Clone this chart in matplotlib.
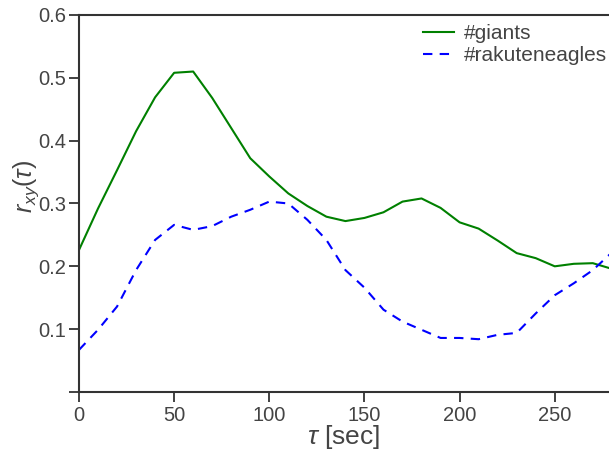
import matplotlib
matplotlib.use("Agg")
import matplotlib.pyplot as plt

plt.rcParams['font.family'] = ['Liberation Sans', 'DejaVu Sans']
plt.rcParams['mathtext.fontset'] = 'custom'
plt.rcParams['mathtext.rm'] = 'Liberation Sans'
plt.rcParams['mathtext.it'] = 'Liberation Sans:italic'

# lag in seconds
tau = [0, 10, 20, 30, 40, 50, 60, 70, 80, 90, 100, 110, 120, 130, 140,
       150, 160, 170, 180, 190, 200, 210, 220, 230, 240, 250, 260, 270, 280]

giants = [0.226, 0.292, 0.353, 0.415, 0.469, 0.508, 0.510, 0.468, 0.420, 0.372,
          0.343, 0.316, 0.296, 0.279, 0.272, 0.277, 0.286, 0.303, 0.308, 0.293,
          0.270, 0.260, 0.241, 0.221, 0.213, 0.200, 0.204, 0.205, 0.196]

eagles = [0.067, 0.099, 0.136, 0.194, 0.242, 0.266, 0.258, 0.264, 0.279, 0.290,
          0.303, 0.300, 0.274, 0.242, 0.194, 0.166, 0.131, 0.112, 0.099, 0.086,
          0.086, 0.084, 0.091, 0.094, 0.125, 0.154, 0.173, 0.194, 0.222]

xticks = [0, 50, 100, 150, 200, 250]
yticks = [0, 0.1, 0.2, 0.3, 0.4, 0.5, 0.6]
yticklabels = ['', '0.1', '0.2', '0.3', '0.4', '0.5', '0.6']

grey = '#444444'

fig = plt.figure(figsize=(6.09, 4.61), dpi=100)
ax = fig.add_axes([0.1297, 0.1497, 0.8703, 0.8178])

ax.plot(tau, giants, color='green', lw=1.5, label='#giants')
ax.plot(tau, eagles, color='blue', lw=1.5, ls=(0, (4.5, 3.5)), label='#rakuteneagles')

ax.set_xlim(0, 278.5)
ax.set_ylim(0, 0.6)
ax.set_xticks(xticks)
ax.set_yticks(yticks)
ax.set_yticklabels(yticklabels)

for s in ['left', 'bottom', 'top']:
    ax.spines[s].set_color('#333333')
    ax.spines[s].set_linewidth(1.5)
ax.spines['right'].set_visible(False)

ax.tick_params(direction='out', length=7, width=1.3, color='#333333',
               labelsize=14.5, labelcolor=grey)
ax.tick_params(axis='y', pad=2)
ax.tick_params(axis='x', pad=3)

ax.set_xlabel(r'$\tau$ [sec]', fontsize=19, color=grey, labelpad=-1)
ax.set_ylabel(r'$r_{xy}(\tau)$', fontsize=18, color=grey)
ax.yaxis.set_label_coords(-0.072, 0.545)

leg = ax.legend(loc='upper right', bbox_to_anchor=(1.014, 1.0), frameon=False,
                fontsize=15, handlelength=1.45, handletextpad=0.5,
                labelspacing=0.15, borderaxespad=0.0, borderpad=0.45)
for t in leg.get_texts():
    t.set_color(grey)

fig.savefig('out.png', dpi=100)
